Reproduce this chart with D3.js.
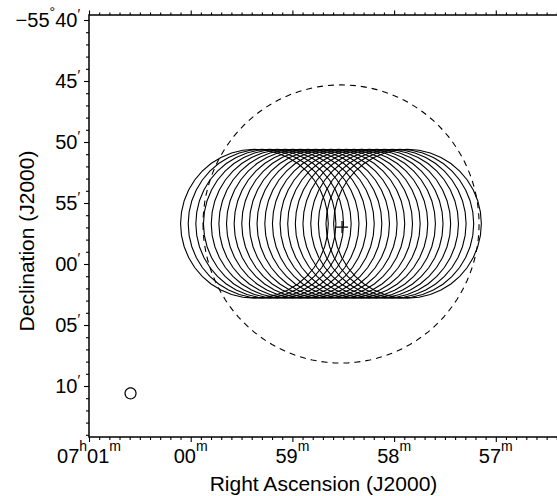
<!DOCTYPE html>
<html><head><meta charset="utf-8">
<script src="https://cdn.jsdelivr.net/npm/d3@7"></script>
<style>
body{margin:0;background:#fff}
svg{display:block}
text{font-family:"Liberation Sans",Arial,Helvetica,sans-serif;fill:#000}
</style>
</head><body>
<svg id="c" width="557" height="496"></svg>
<script>
// RA: seconds of time after 06h00m (J2000). Dec: arcmin south of -55°00' (J2000).
const raTicks = [3660, 3600, 3540, 3480, 3420];
const raTickLabels = [["07","h","01","m"],["","","00","m"],["","","59","m"],["","","58","m"],["","","57","m"]];
const decTicks = [40, 45, 50, 55, 60, 65, 70];
const decTickLabels = [["−55","°","40","′"],["","","45","′"],["","","50","′"],["","","55","′"],["","","00","′"],["","","05","′"],["","","10","′"]];

// mosaic pointings (primary beam circles)
const pointingRA = [3562.4, 3557.9, 3553.4, 3548.9, 3544.3, 3539.8, 3535.3, 3530.8, 3526.3, 3521.8,
                    3517.3, 3512.7, 3508.2, 3503.7, 3499.2, 3494.7, 3490.2, 3485.6, 3481.1, 3476.6, 3472.1];
const pointingDec = [56.7, 56.7, 56.7, 56.7, 56.7, 56.7, 56.7, 56.7, 56.7, 56.7,
                     56.7, 56.7, 56.7, 56.7, 56.7, 56.7, 56.7, 56.7, 56.7, 56.7, 56.7];
const pointingRadius = [6.1];          // arcmin
const fieldRA = [3511.3], fieldDec = [56.72], fieldRadius = [11.4];   // dashed circle
const crossRA = [3510.7], crossDec = [56.97];
const beamRA = [3635.5], beamDec = [70.6], beamRadius = [0.45];

const W = 557, H = 496;
const L = 89, T = 15, R = 558, B = 437;
const x = d3.scaleLinear().domain([3660, 3383.3]).range([L, R]);
const y = d3.scaleLinear().domain([39.59, 74.18]).range([T, B]);
const svg = d3.select("#c");

function circlePath(ra0, dec0, r, n) {
  const cd = Math.cos((55 + dec0 / 60) * Math.PI / 180);
  const pts = [];
  for (let i = 0; i < n; i++) {
    const t = 2 * Math.PI * i / n;
    pts.push([x(ra0 + 4 * r * Math.cos(t) / cd), y(dec0 + r * Math.sin(t))]);
  }
  return d3.line()(pts) + "Z";
}

svg.append("defs").append("clipPath").attr("id","clip")
  .append("rect").attr("x",L).attr("y",T).attr("width",R-L).attr("height",B-T);
const g = svg.append("g").attr("clip-path","url(#clip)");

// pointings
g.selectAll("path.pt").data(pointingRA).join("path").attr("class","pt")
  .attr("d",(d,i)=>circlePath(d, pointingDec[i], pointingRadius[0], 40))
  .attr("fill","none").attr("stroke","#000").attr("stroke-width",1.1);

// dashed field circle
g.append("path").attr("d",circlePath(fieldRA[0], fieldDec[0], fieldRadius[0], 120))
  .attr("fill","none").attr("stroke","#000").attr("stroke-width",1.1).attr("stroke-dasharray","6,5");

// cross
const cx = x(crossRA[0]), cy = y(crossDec[0]);
g.append("path").attr("d",`M${cx-6},${cy}H${cx+6}M${cx},${cy-6}V${cy+6}`)
  .attr("stroke","#000").attr("stroke-width",1.3);

// synthesized beam
g.append("path").attr("d",circlePath(beamRA[0], beamDec[0], beamRadius[0], 40))
  .attr("fill","none").attr("stroke","#000").attr("stroke-width",1.2);

// axes ticks
const raMinor = d3.range(3384, 3661, 6).filter(v => !raTicks.includes(v));
const decMinor = d3.range(40, 75, 1).filter(v => !decTicks.includes(v));
function ticks(axisFn, scale, vals, size, tr) {
  svg.append("g").attr("transform",tr)
    .call(axisFn(scale).tickValues(vals).tickSize(size).tickSizeOuter(0).tickFormat(""))
    .call(s => s.select(".domain").remove())
    .selectAll("line").attr("stroke-width",1.1);
}
ticks(d3.axisTop, x, raTicks, 4.5, `translate(0,${T})`);
ticks(d3.axisTop, x, raMinor, 2.5, `translate(0,${T})`);
ticks(d3.axisBottom, x, raTicks, 5, `translate(0,${B})`);
ticks(d3.axisBottom, x, raMinor, 3, `translate(0,${B})`);
ticks(d3.axisLeft, y, decTicks, 5, `translate(${L},0)`);
ticks(d3.axisLeft, y, decMinor, 3, `translate(${L},0)`);

// frame
svg.append("rect").attr("x",L).attr("y",T).attr("width",R-L).attr("height",B-T)
  .attr("fill","none").attr("stroke","#000").attr("stroke-width",1.5);

// tick labels
const fs = 20, sfs = 14;
raTicks.forEach((v,i) => {
  const lab = raTickLabels[i];
  const t = svg.append("text").attr("x",x(v)).attr("y",463).attr("text-anchor","middle").attr("font-size",fs);
  if (lab[0]) {
    t.append("tspan").text(lab[0]);
    t.append("tspan").attr("font-size",sfs).attr("dy",-12).text(lab[1]);
    t.append("tspan").attr("dy",12).text(lab[2]);
  } else {
    t.append("tspan").text(lab[2]);
  }
  t.append("tspan").attr("font-size",sfs).attr("dy",-12).text(lab[3]);
});
decTicks.forEach((v,i) => {
  const lab = decTickLabels[i];
  const t = svg.append("text").attr("x",80).attr("y",y(v)+7).attr("text-anchor","end").attr("font-size",fs);
  if (lab[0]) {
    t.append("tspan").text(lab[0]);
    t.append("tspan").attr("font-size",sfs).attr("dy",-10).text(lab[1]);
    t.append("tspan").attr("dy",10).text(lab[2]);
  } else {
    t.append("tspan").text(lab[2]);
  }
  t.append("tspan").attr("font-size",sfs).attr("dy",-8).text(lab[3]);
});

// axis titles
svg.append("text").attr("x",(L+R)/2).attr("y",491).attr("text-anchor","middle").attr("font-size",21)
  .text("Right Ascension (J2000)");
svg.append("text").attr("transform",`translate(34,241) rotate(-90)`).attr("text-anchor","middle").attr("font-size",21)
  .text("Declination (J2000)");
</script>
</body></html>
